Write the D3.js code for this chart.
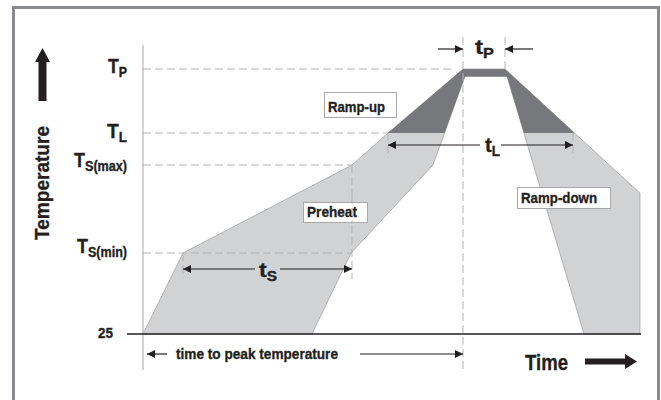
<!DOCTYPE html>
<html>
<head>
<meta charset="utf-8">
<script src="https://cdn.jsdelivr.net/npm/d3@7"></script>
<style>
  body { margin: 0; background: #fff; }
  text { font-family: "Liberation Sans", Arial, sans-serif; font-weight: bold; fill: #231f20;
         stroke: #231f20; stroke-width: 0.35px; }
</style>
</head>
<body>
<div id="chart"></div>
<script>
// temperature levels (schematic, not to scale) and their labels
var tempLevels = [25, 150, 200, 217, 260];
var tempMain = ["25", "T", "T", "T", "T"];
var tempSub = ["", "S(min)", "S(max)", "L", "P"];

// reflow profile band: outer (hot/slow) edge and inner (fast) edge, time in nominal s
var outerTime = [0, 40, 209, 245, 320, 362, 497, 497];
var outerTemp = [25, 150, 200, 217, 260, 260, 184, 25];
var innerTime = [441, 364, 322, 290, 208, 169];
var innerTemp = [25, 255, 255, 200, 150, 25];

// key times for the annotations
var tsStart = 40, tsEnd = 209;
var tlStart = 245, tlEnd = 430;
var tpStart = 320, tpEnd = 362;

var width = 661, height = 400;

var svg = d3.select("#chart").append("svg")
    .attr("width", width)
    .attr("height", height);

var x = d3.scaleLinear().domain([0, 500]).range([143, 643]);
// piecewise scale: the levels are spaced for reading, not proportionally
var y = d3.scaleLinear().domain(tempLevels).range([334, 253, 165, 133, 69]);

var light = "#d1d2d4", dark = "#77787b", dash = "#b3b3b3";

// frame
svg.append("rect")
    .attr("x", 13.5).attr("y", 7.5)
    .attr("width", 645).attr("height", 430)
    .attr("fill", "none").attr("stroke", "#8a8b8d").attr("stroke-width", 3);

var defs = svg.append("defs");
defs.append("marker")
    .attr("id", "head")
    .attr("viewBox", "0 0 10 10")
    .attr("refX", 10).attr("refY", 5)
    .attr("markerWidth", 10).attr("markerHeight", 8)
    .attr("markerUnits", "userSpaceOnUse")
    .attr("orient", "auto")
  .append("path")
    .attr("d", "M0,0L10,5L0,10Z")
    .attr("fill", "#231f20");

defs.append("clipPath").attr("id", "aboveTL")
  .append("rect")
    .attr("x", 0).attr("y", 0)
    .attr("width", width).attr("height", y(217));

// temperature axis (thin gray)
svg.append("line")
    .attr("x1", x(0)).attr("x2", x(0))
    .attr("y1", 45).attr("y2", 370)
    .attr("stroke", "#a7a7a7").attr("stroke-width", 1);

// band polygon
var pts = outerTime.map(function (t, i) { return [x(t), y(outerTemp[i])]; })
  .concat(innerTime.map(function (t, i) { return [x(t), y(innerTemp[i])]; }));
var band = d3.line()(pts) + "Z";

svg.append("path").attr("d", band)
    .attr("fill", light).attr("stroke", "#9c9c9c").attr("stroke-width", 0.7);
svg.append("path").attr("d", band)
    .attr("clip-path", "url(#aboveTL)")
    .attr("fill", dark).attr("stroke", "none");

// time axis (black)
svg.append("line")
    .attr("x1", 127).attr("x2", 641)
    .attr("y1", y(25)).attr("y2", y(25))
    .attr("stroke", "#231f20").attr("stroke-width", 1.4);

// dashed guides
function dashed(x1, y1, x2, y2) {
  svg.append("line")
      .attr("x1", x1).attr("y1", y1).attr("x2", x2).attr("y2", y2)
      .attr("stroke", dash).attr("stroke-width", 1)
      .attr("stroke-dasharray", "8,4");
}
dashed(x(0), y(260), x(tpStart) - 8, y(260));
dashed(x(0), y(217), x(tlStart), y(217));
dashed(x(0), y(200), x(tsEnd), y(200));
dashed(x(0), y(150), x(tsEnd), y(150));
dashed(x(tsStart), y(150), x(tsStart), 278);
dashed(x(tsEnd), y(200), x(tsEnd), 279);
dashed(x(tlStart), y(217), x(tlStart), 158);
dashed(x(tlEnd), y(217), x(tlEnd), 158);
dashed(x(tpStart), 37, x(tpStart), 370);
dashed(x(tpEnd), 37, x(tpEnd), y(260));

// fitted text helper (the original face is a condensed grotesque)
function label(xx, yy, size, str, len) {
  return svg.append("text")
      .attr("x", xx).attr("y", yy)
      .attr("font-size", size)
      .attr("textLength", len)
      .attr("lengthAdjust", "spacingAndGlyphs")
      .text(str);
}

// labelled boxes
function box(x0, y0, w, h, str, len) {
  svg.append("rect")
      .attr("x", x0 + 0.5).attr("y", y0 + 0.5)
      .attr("width", w).attr("height", h)
      .attr("fill", "#fff").attr("stroke", "#a8a8a8").attr("stroke-width", 1);
  label(x0 + 4, y0 + h - 5, 15.5, str, len);
}
box(324, 92, 72, 25, "Ramp-up", 57);
box(303, 202, 64, 20, "Preheat", 50);
box(517, 187, 93, 21, "Ramp-down", 76);
// the ts(max) guide runs over the Preheat box
dashed(x(tsEnd), 196, x(tsEnd), 224);

// temperature level labels
var levelDy = [4, 0, 2, 5, 4];
var levelLen = [15, 50, 53, 20, 19];
tempLevels.forEach(function (v, i) {
  var t = svg.append("text")
      .attr("x", 127 - levelLen[i]).attr("y", y(v) + levelDy[i])
      .attr("textLength", levelLen[i])
      .attr("lengthAdjust", "spacingAndGlyphs");
  if (i === 0) {
    t.attr("x", 98).attr("font-size", 15).text(tempMain[i]);
    return;
  }
  t.append("tspan").attr("font-size", 20).text(tempMain[i]);
  t.append("tspan").attr("font-size", 14).attr("dy", 4).text(tempSub[i]);
});

// arrows
function arrow(x1, x2, yy) {
  svg.append("line")
      .attr("x1", x1).attr("x2", x2).attr("y1", yy).attr("y2", yy)
      .attr("stroke", "#231f20").attr("stroke-width", 1.2)
      .attr("marker-end", "url(#head)");
}
function tLabel(tx, ty, sub, len) {
  var t = svg.append("text").attr("x", tx).attr("y", ty)
      .attr("textLength", len).attr("lengthAdjust", "spacingAndGlyphs");
  t.append("tspan").attr("font-size", 21).text("t");
  t.append("tspan").attr("font-size", 14).attr("dy", 4).text(sub);
}
arrow(255, x(tsStart), 269);
arrow(280, x(tsEnd), 269);
tLabel(259, 277, "S", 18);

arrow(480, x(tlStart), 145);
arrow(501, x(tlEnd), 145);
tLabel(485, 152, "L", 15);

// tP arrows point inward from outside
arrow(438, x(tpStart), 49);
arrow(533, x(tpEnd), 49);
tLabel(475, 54, "P", 19);

// time to peak
arrow(167, 147, 354);
arrow(360, x(tpStart), 354);
label(176, 359, 15, "time to peak temperature", 162);

// axis titles with block arrows
svg.append("text")
    .attr("transform", "translate(49,240) rotate(-90)")
    .attr("font-size", 21)
    .attr("textLength", 114)
    .attr("lengthAdjust", "spacingAndGlyphs")
    .text("Temperature");
svg.append("path")
    .attr("d", "M42.5,48L50,62L46.5,62L46.5,101L38.5,101L38.5,62L35,62Z")
    .attr("fill", "#231f20");

label(525, 370, 22, "Time", 43);
svg.append("path")
    .attr("d", "M585,358.5L625,358.5L625,354L637,361.5L625,369L625,364.5L585,364.5Z")
    .attr("fill", "#231f20");
</script>
</body>
</html>
